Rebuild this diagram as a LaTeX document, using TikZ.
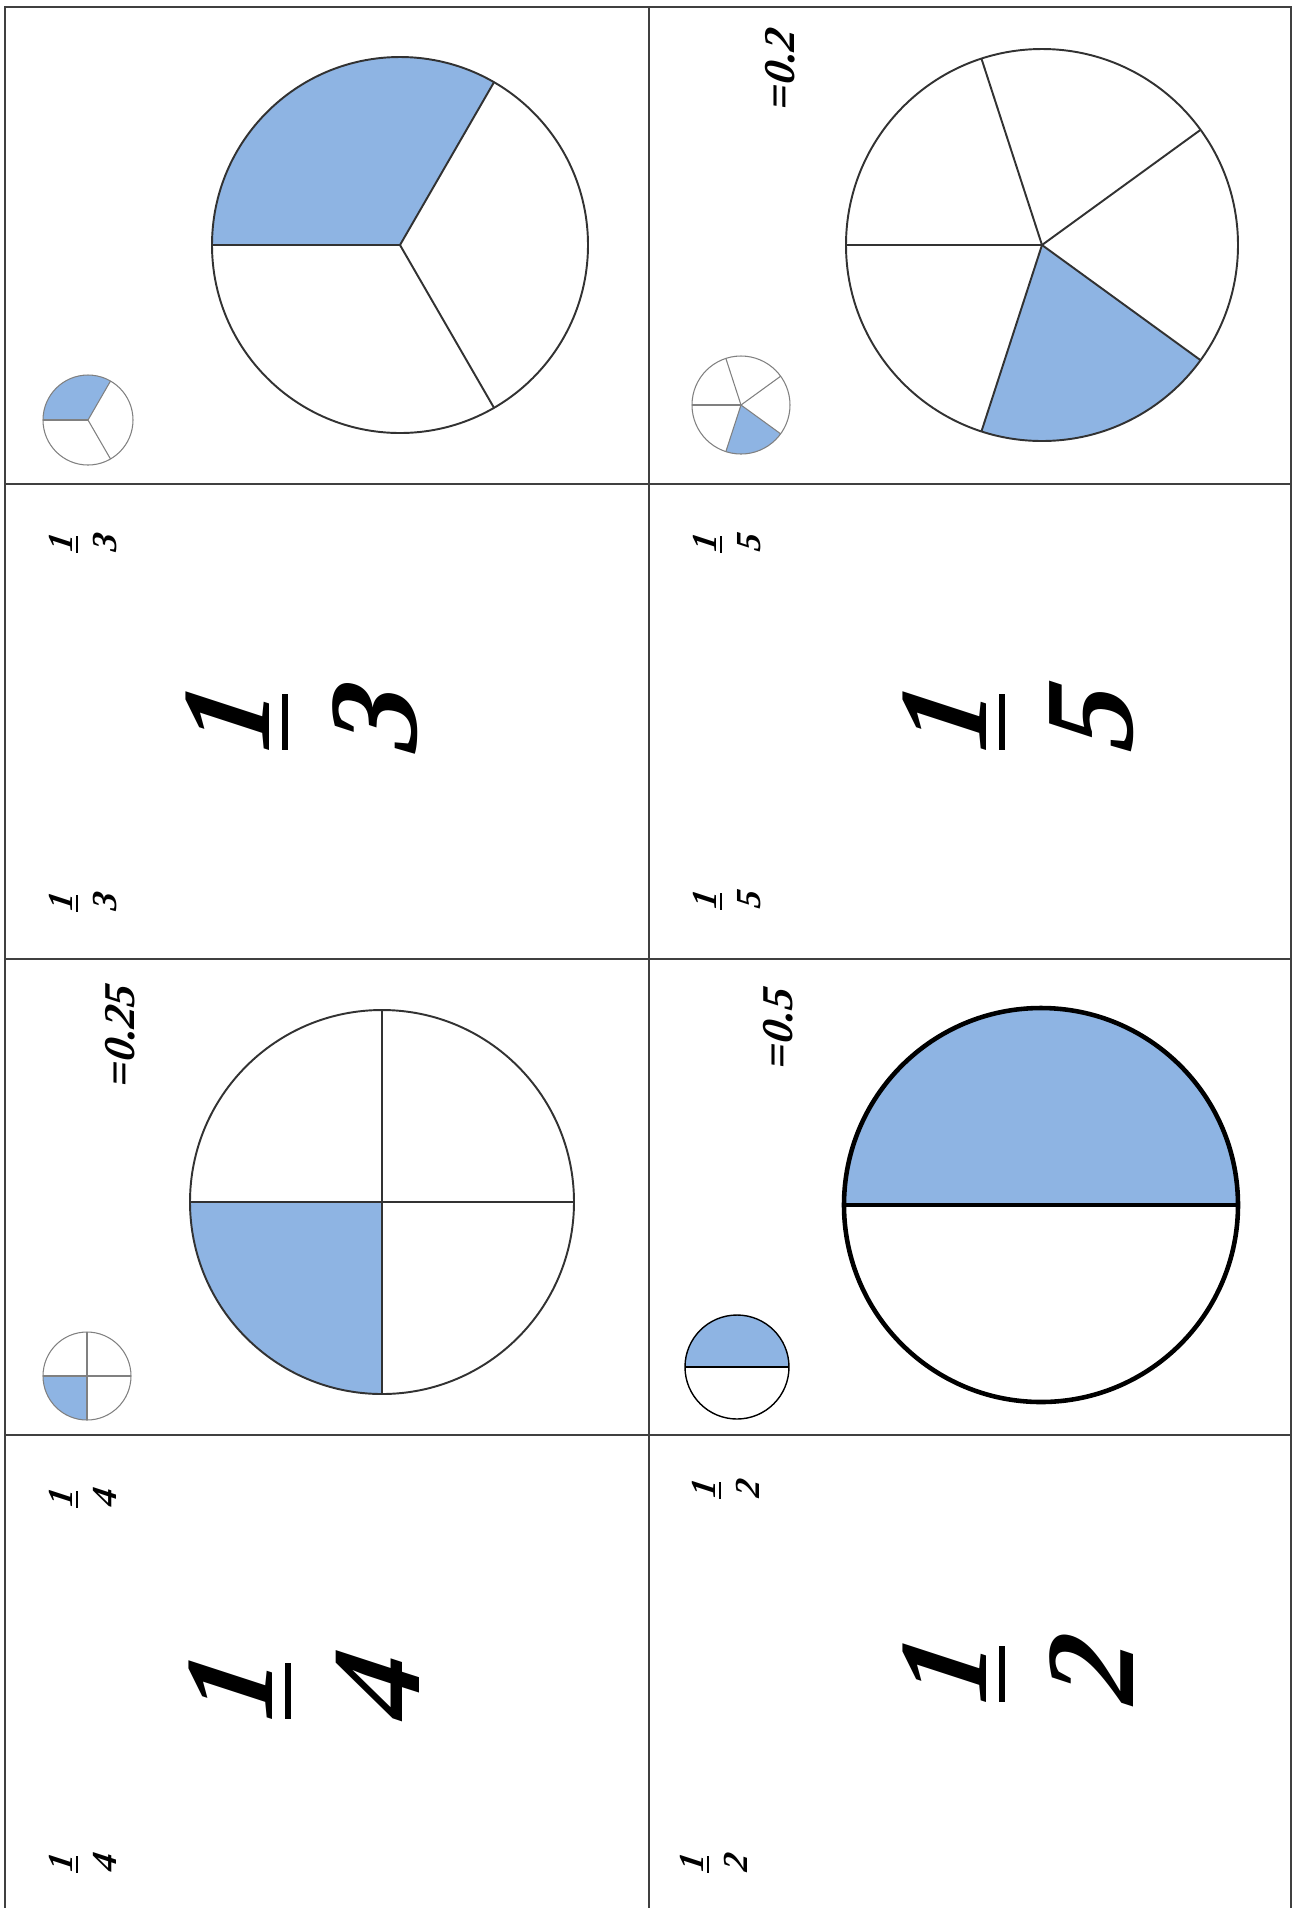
\documentclass[tikz,border=0pt]{standalone}
\usepackage{fontspec}
\setmainfont{Liberation Serif}
\newfontfamily\digitfont[FakeSlant=0.15]{Liberation Serif Bold Italic}
\definecolor{piec}{RGB}{142,180,227}
\definecolor{rulec}{RGB}{64,64,64}
\definecolor{rimc}{RGB}{50,50,50}
% a pie: centre x, centre y (image rows), radius, shaded from, shaded to, spokes, line style
\newcommand{\pie}[7]{%
  \fill[piec] (#1,-#2) -- ++(#4:#3) arc[start angle=#4, end angle=#5, radius=#3] -- cycle;
  \foreach \a in {#6} { \draw[#7] (#1,-#2) -- ++(\a:#3); }
  \draw[#7] (#1,-#2) circle[radius=#3];}
% the big fraction: name, bar x, bar y, denominator
\newcommand{\bigfr}[4]{%
  \node[numbig] (#1n) at ({#2-57},-#3) {1};
  \node[barbig] (#1b) at (#2,-#3) {};
  \node[numbig] (#1d) at ({#2+90},-#3) {#4};}
% the small corner fraction
\newcommand{\smallfr}[4]{%
  \node[numsmall] (#1n) at ({#2-16},-#3) {1};
  \node[barsmall] (#1b) at (#2,-#3) {};
  \node[numsmall] (#1d) at ({#2+28},-#3) {#4};}

\begin{document}
\begin{tikzpicture}[x=0.01cm, y=0.01cm,
    numbig/.style={rotate=90, inner sep=0pt, font=\fontsize{36}{40}\selectfont\digitfont},
    numsmall/.style={rotate=90, inner sep=0pt, font=\fontsize{10}{12}\selectfont\digitfont},
    valtxt/.style={rotate=90, inner sep=0pt, font=\fontsize{12.5}{15}\selectfont\digitfont},
    barbig/.style={rectangle, fill=black, inner sep=0pt, minimum width=0.06cm, minimum height=0.56cm},
    barsmall/.style={rectangle, fill=black, inner sep=0pt, minimum width=0.02cm, minimum height=0.17cm},
    cellline/.style={draw=rulec, line width=0.7pt},
    rimbig/.style={draw=rimc, line width=0.55pt},
    rimheavy/.style={draw=black, line width=1.3pt},
    rimsmall/.style={draw=gray, line width=0.3pt},
    rimhalf/.style={draw=black, line width=0.4pt},
  ]
  \useasboundingbox (0,0) rectangle (1295,-1908);

  %% ================= the cells =================
  \draw[cellline] (5,-7) rectangle (1291,-1911);
  \draw[cellline] (649,-7) -- (649,-1911);
  \foreach \y in {484,959,1435} { \draw[cellline] (5,-\y) -- (1291,-\y); }

  %% ================= left column =================
  % one third
  \pie{400}{245}{188}{60}{180}{60,180,300}{rimbig}
  \pie{88}{420}{45}{60}{180}{60,180,300}{rimsmall}
  \bigfr{thr}{285}{722}{3}
  \smallfr{thrA}{77}{544}{3}
  \smallfr{thrB}{77}{903}{3}

  % one quarter
  \pie{382}{1202}{192}{180}{270}{0,90,180,270}{rimbig}
  \pie{87}{1376}{44}{180}{270}{0,90,180,270}{rimsmall}
  \node[valtxt] (qval) at (120,-1037) {=0.25};
  \bigfr{qua}{288}{1691}{4}
  \smallfr{quaA}{77}{1499}{4}
  \smallfr{quaB}{77}{1864}{4}

  %% ================= right column =================
  % one fifth
  \pie{1042}{245}{196}{252}{324}{36,108,180,252,324}{rimbig}
  \pie{741}{405}{49}{252}{324}{36,108,180,252,324}{rimsmall}
  \node[valtxt] (fval) at (780,-71) {=0.2};
  \bigfr{fif}{1002}{722}{5}
  \smallfr{fifA}{721}{544}{5}
  \smallfr{fifB}{721}{901}{5}

  % one half
  \pie{1041}{1205}{197}{0}{180}{0,180}{rimheavy}
  \pie{737}{1367}{52}{0}{180}{0,180}{rimhalf}
  \node[valtxt] (hval) at (778,-1030) {=0.5};
  \bigfr{hal}{1002}{1674}{2}
  \smallfr{halA}{720}{1490}{2}
  \smallfr{halB}{708}{1864}{2}

\end{tikzpicture}
\end{document}
